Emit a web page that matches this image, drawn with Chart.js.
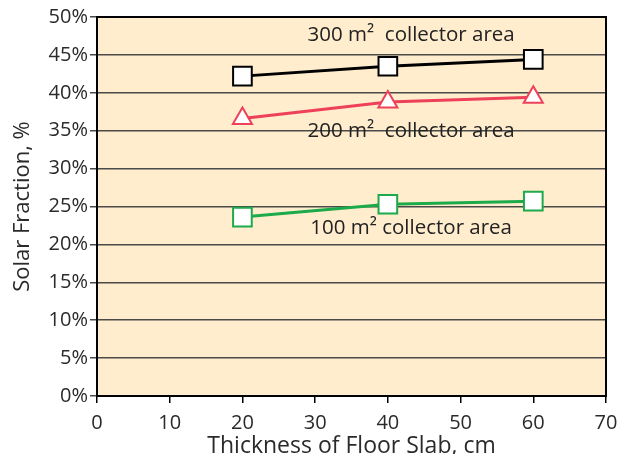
<!DOCTYPE html>
<html><head><meta charset="utf-8">
<script src="https://cdn.jsdelivr.net/npm/chart.js@4"></script>
<style>html,body{margin:0;padding:0;background:#fff}#wrap{width:633px;height:454px}</style>
</head><body><div id="wrap"><canvas id="c" width="633" height="454"></canvas></div>
<script>
const thickness = [20, 40, 60];
const area300 = [42.2, 43.5, 44.4];
const area200 = [36.6, 38.8, 39.4];
const area100 = [23.6, 25.3, 25.7];
const xTicks = [0, 10, 20, 30, 40, 50, 60, 70];
const yTicks = [0, 5, 10, 15, 20, 25, 30, 35, 40, 45, 50];
const labels = [
  {text: '300 m²  collector area', x: 43.2, y: 47.6},
  {text: '200 m²  collector area', x: 43.2, y: 34.9},
  {text: '100 m² collector area', x: 43.2, y: 22.2}
];
const FONT = '"Open Sans", "Noto Sans", sans-serif';

const bgPlugin = {
  id: 'bg',
  beforeDraw(chart) {
    const {ctx, chartArea: a} = chart;
    ctx.save(); ctx.fillStyle = '#FFEDCD';
    ctx.fillRect(a.left, a.top, a.right - a.left, a.bottom - a.top);
    ctx.restore();
  },
  afterDatasetsDraw(chart) {
    const {ctx, chartArea: a, scales} = chart;
    ctx.save();
    ctx.strokeStyle = '#000'; ctx.lineWidth = 2;
    ctx.strokeRect(a.left, a.top, a.right - a.left, a.bottom - a.top);
    ctx.fillStyle = '#222';
    ctx.font = '20.5px ' + FONT;
    ctx.textAlign = 'center'; ctx.textBaseline = 'middle';
    labels.forEach(l => ctx.fillText(l.text, scales.x.getPixelForValue(l.x), scales.y.getPixelForValue(l.y)));
    ctx.restore();
  }
};

const ds = (label, data, color, style, r) => ({
  label, data: thickness.map((t, i) => ({x: t, y: data[i]})),
  borderColor: color, borderWidth: 3,
  pointStyle: style, pointRadius: r, pointHoverRadius: r,
  pointBackgroundColor: '#fff', pointBorderColor: color, pointBorderWidth: 2,
  tension: 0
});

new Chart(document.getElementById('c'), {
  type: 'line',
  data: {datasets: [
    ds('300', area300, '#000000', 'rect', 13.2),
    ds('200', area200, '#EE4059', 'triangle', 11),
    ds('100', area100, '#1DAA4A', 'rect', 13.2)
  ]},
  options: {
    responsive: false, animation: false,
    layout: {padding: {top: 17, right: 27, left: 0, bottom: 0}},
    plugins: {legend: {display: false}, tooltip: {enabled: false}},
    scales: {
      x: {
        type: 'linear', min: 0, max: 70,
        afterBuildTicks(s) { s.ticks = xTicks.map(v => ({value: v})); },
        afterFit(s) { s.height = 58; },
        grid: {drawOnChartArea: false, tickLength: 7, color: '#000', lineWidth: 1.5},
        border: {display: false},
        ticks: {color: '#2a2a2a', font: {family: FONT, size: 20}, padding: 8, maxRotation: 0},
        title: {display: true, text: 'Thickness of Floor Slab, cm', color: '#2a2a2a', font: {family: FONT, size: 23}, padding: {top: -6, bottom: -6}}
      },
      y: {
        min: 0, max: 50,
        afterBuildTicks(s) { s.ticks = yTicks.map(v => ({value: v})); },
        afterFit(s) { s.width = 97; },
        grid: {color: '#4a4a4a', lineWidth: 1.5, tickLength: 7},
        border: {display: false},
        ticks: {color: '#2a2a2a', font: {family: FONT, size: 20}, padding: 2, callback: v => v + '%'},
        title: {display: true, text: 'Solar Fraction, %', color: '#2a2a2a', font: {family: FONT, size: 22}, padding: {top: 10, bottom: 0}}
      }
    }
  },
  plugins: [bgPlugin]
});
</script>
</body></html>
